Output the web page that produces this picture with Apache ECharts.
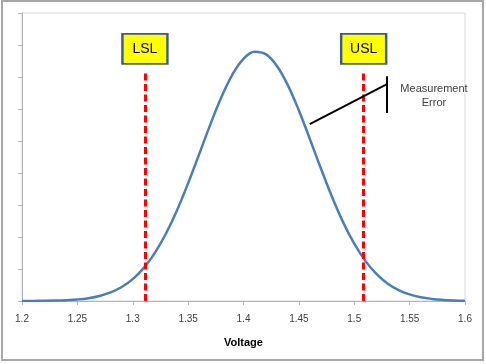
<!DOCTYPE html>
<html>
<head>
<meta charset="utf-8">
<script src="https://cdn.jsdelivr.net/npm/echarts@6/dist/echarts.min.js"></script>
<style>html,body{margin:0;padding:0;background:#fff}#c{width:486px;height:364px}</style>
</head>
<body>
<div id="c"></div>
<script>
// Data
var voltage = [1.20,1.21,1.22,1.23,1.24,1.25,1.26,1.27,1.28,1.29,1.30,1.31,1.32,1.33,1.34,1.35,1.36,1.37,1.38,1.39,1.40,1.41,1.42,1.43,1.44,1.45,1.46,1.47,1.48,1.49,1.50,1.51,1.52,1.53,1.54,1.55,1.56,1.57,1.58,1.59,1.60];
var density = [0.001,0.003,0.006,0.013,0.026,0.049,0.089,0.157,0.267,0.436,0.685,1.035,1.506,2.108,2.838,3.681,4.591,5.513,6.367,7.077,7.569,7.791,7.716,7.354,6.745,5.953,5.055,4.131,3.249,2.458,1.790,1.254,0.846,0.549,0.343,0.206,0.119,0.066,0.035,0.018,0.009];
var xTicks = [1.2,1.25,1.3,1.35,1.4,1.45,1.5,1.55,1.6];
var specLabels = ['LSL','USL'];
var specValues = [1.311,1.5085];
var specLineTop = 7.22;
var specBoxY = 7.88;
var errLine = [[1.4598,5.53],[1.5296,6.78]];
var errBar = [[1.5296,7.02],[1.5296,5.875]];
var errText = 'Measurement\nError';
var errTextPos = [1.572,6.42];

var chart = echarts.init(document.getElementById('c'));
var pts = voltage.map(function(v,i){return [v,density[i]];});
chart.setOption({
  animation:false,
  backgroundColor:'#fff',
  textStyle:{fontFamily:'Liberation Sans, Arial, sans-serif'},
  graphic:[{type:'rect',shape:{x:2,y:1,width:481,height:359},style:{fill:'none',stroke:'#a6a6a6',lineWidth:2},silent:true}],
  grid:{left:22,right:21,top:13,bottom:63,show:true,borderColor:'#d9d9d9',borderWidth:1},
  xAxis:{type:'value',min:1.2,max:1.6,interval:0.05,
    axisLine:{show:true,lineStyle:{color:'#b3b3b3',width:1}},
    axisTick:{show:true,length:4,lineStyle:{color:'#b3b3b3'}},
    splitLine:{show:false},
    axisLabel:{color:'#404040',fontSize:10,margin:13,formatter:function(v){var r=Math.round(v*100)/100;return xTicks.indexOf(r)>=0?String(r):'';}},
    name:'Voltage',nameLocation:'middle',nameGap:36,
    nameTextStyle:{color:'#000',fontSize:11,fontWeight:'bold'}},
  yAxis:{type:'value',min:0,max:9,interval:1,
    axisLine:{show:true,lineStyle:{color:'#b3b3b3',width:1}},
    axisTick:{show:true,length:4,lineStyle:{color:'#b3b3b3'}},
    axisLabel:{show:false},splitLine:{show:false}},
  series:[
    {type:'line',data:pts,smooth:0.4,showSymbol:false,symbol:'none',
     lineStyle:{color:'#4a7ebb',width:2.5},z:3},
    {type:'line',data:[],
     markLine:{silent:true,symbol:'none',label:{show:false},
       lineStyle:{color:'#ff0000',width:3,type:[7,3.5]},
       data:specValues.map(function(v){return [{coord:[v,0]},{coord:[v,specLineTop]}];})},
     markPoint:{silent:true,symbol:'rect',symbolSize:[45,30],
       itemStyle:{color:'#ffff00',borderColor:'#385d8a',borderWidth:2},
       label:{show:true,position:'inside',color:'#000',fontSize:14,fontFamily:'Liberation Sans Narrow, Liberation Sans, sans-serif'},
       data:specValues.map(function(v,i){return {coord:[v,specBoxY],value:specLabels[i],label:{formatter:specLabels[i]}};})}
    },
    {type:'line',data:[],
     markLine:{silent:true,symbol:'none',label:{show:false},
       lineStyle:{color:'#000',width:2,type:'solid'},
       data:[[{coord:errLine[0]},{coord:errLine[1]}],[{coord:errBar[0]},{coord:errBar[1]}]]},
     markPoint:{silent:true,symbol:'rect',symbolSize:1,itemStyle:{color:'rgba(0,0,0,0)'},
       label:{show:true,position:'inside',color:'#404040',fontSize:11,lineHeight:14,align:'center',formatter:errText},
       data:[{coord:errTextPos}]}
    }
  ]
});
</script>
</body>
</html>
